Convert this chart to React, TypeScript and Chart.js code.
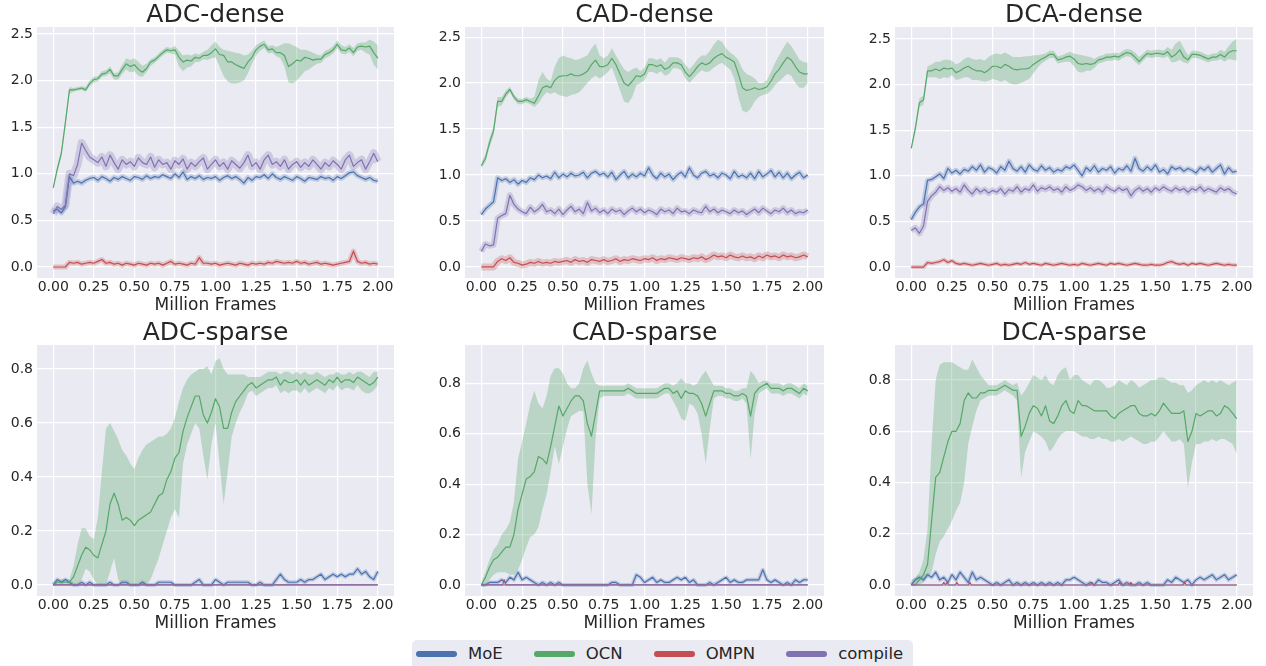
import React, { useEffect, useRef } from "react";
import { Chart, registerables } from "chart.js";

Chart.register(...registerables);

const FONT = "'DejaVu Sans', 'Noto Sans', sans-serif";
const TEXT = "#262626";
const PLOT_BG = "#eaeaf2";

const SERIES_NAMES = ["MoE", "OCN", "OMPN", "compile"];
const SERIES_RGB = ["76,114,176", "85,168,104", "196,78,82", "129,114,178"];

// x grid: million frames, every 0.025
const X = Array.from({ length: 81 }, (_, i) => i / 40);
const X_TICKS = [0, 0.25, 0.5, 0.75, 1, 1.25, 1.5, 1.75, 2];
const DENSE_Y_TICKS = [0, 0.5, 1, 1.5, 2, 2.5];
const SPARSE_Y_TICKS = [0, 0.2, 0.4, 0.6, 0.8];
const X_LABEL = "Million Frames";

// ---------------- ADC-dense ----------------
const ADC_DENSE_OCN = [0.85,1.05,1.22,1.55,1.90,1.90,1.91,1.92,1.90,1.97,
 2.01,2.02,2.07,2.08,2.12,2.05,2.05,2.12,2.18,2.15,
 2.17,2.12,2.09,2.13,2.20,2.22,2.26,2.30,2.33,2.32,
 2.33,2.25,2.20,2.22,2.21,2.25,2.24,2.27,2.27,2.30,
 2.34,2.28,2.27,2.20,2.20,2.17,2.15,2.13,2.20,2.25,
 2.33,2.37,2.39,2.33,2.34,2.30,2.30,2.27,2.15,2.18,
 2.22,2.21,2.25,2.24,2.22,2.23,2.23,2.28,2.30,2.33,
 2.39,2.33,2.32,2.35,2.30,2.36,2.37,2.36,2.37,2.30,
 2.24];
const ADC_DENSE_OCN_LO = [0.83,1.02,1.18,1.50,1.86,1.88,1.89,1.90,1.88,1.94,
 1.98,1.99,2.04,2.05,2.08,2.01,2.01,2.07,2.12,2.09,
 2.10,2.05,2.04,2.09,2.16,2.19,2.23,2.27,2.30,2.29,
 2.28,2.15,2.10,2.14,2.15,2.20,2.20,2.23,2.22,2.24,
 2.25,2.15,2.05,1.99,1.97,1.97,1.98,2.00,2.08,2.18,
 2.27,2.32,2.35,2.29,2.30,2.26,2.24,2.15,1.98,1.97,
 2.00,2.05,2.10,2.12,2.15,2.18,2.19,2.24,2.26,2.29,
 2.35,2.29,2.28,2.31,2.26,2.32,2.33,2.30,2.28,2.17,
 2.12];
const ADC_DENSE_OCN_HI = [0.87,1.08,1.26,1.60,1.93,1.92,1.93,1.94,1.93,2.00,
 2.04,2.05,2.10,2.11,2.15,2.08,2.09,2.17,2.24,2.22,
 2.24,2.20,2.16,2.18,2.23,2.25,2.29,2.33,2.36,2.35,
 2.37,2.32,2.27,2.28,2.27,2.29,2.28,2.31,2.33,2.38,
 2.42,2.36,2.33,2.32,2.31,2.30,2.29,2.27,2.28,2.32,
 2.38,2.41,2.43,2.37,2.38,2.36,2.38,2.40,2.40,2.38,
 2.36,2.33,2.33,2.32,2.30,2.28,2.27,2.32,2.34,2.37,
 2.43,2.38,2.36,2.39,2.35,2.40,2.41,2.41,2.44,2.42,
 2.38];
const ADC_DENSE_MOE = [0.60,0.62,0.58,0.65,0.97,0.90,0.92,0.90,0.93,0.95,
 0.96,0.93,0.97,0.95,0.92,0.96,0.94,0.97,0.95,0.93,
 0.97,0.96,0.94,0.98,0.95,0.97,0.96,0.99,0.97,0.95,
 1.00,0.96,1.02,0.94,0.97,0.95,0.98,0.94,0.96,0.95,
 0.97,0.93,0.96,0.98,0.95,0.97,0.94,0.90,0.96,0.93,
 0.97,0.96,0.99,0.95,1.00,0.96,0.94,0.97,0.95,0.93,
 0.97,0.95,0.92,0.96,0.95,0.94,0.97,0.95,0.96,0.93,
 0.97,0.95,0.98,1.01,1.02,0.98,0.96,0.94,0.96,0.93,
 0.92];
const ADC_DENSE_OMPN = [0,0,0,0,0.05,0.04,0.05,0.03,0.04,0.05,
 0.04,0.06,0.08,0.04,0.05,0.03,0.04,0.02,0.04,0.03,
 0.02,0.04,0.03,0.02,0.04,0.03,0.04,0.02,0.04,0.06,
 0.03,0.04,0.03,0.02,0.04,0.03,0.10,0.04,0.04,0.03,
 0.04,0.02,0.03,0.04,0.03,0.02,0.04,0.03,0.02,0.04,
 0.03,0.04,0.03,0.05,0.04,0.06,0.05,0.04,0.05,0.04,
 0.06,0.04,0.05,0.03,0.04,0.05,0.03,0.04,0.03,0.02,
 0.03,0.04,0.05,0.06,0.17,0.06,0.04,0.05,0.03,0.04,
 0.03];
const ADC_DENSE_COMPILE = [0.57,0.65,0.62,0.66,1.00,0.98,1.10,1.33,1.25,1.18,
 1.15,1.12,1.18,1.08,1.20,1.12,1.05,1.15,1.10,1.13,
 1.08,1.17,1.12,1.10,1.18,1.07,1.15,1.10,1.12,1.05,
 1.14,1.10,1.16,1.05,1.12,1.08,1.13,1.17,1.05,1.10,
 1.15,1.08,1.12,1.05,1.14,1.10,1.06,1.12,1.20,1.08,
 1.12,1.05,1.15,1.20,1.10,1.13,1.08,1.15,1.05,1.10,
 1.13,1.07,1.12,1.08,1.15,1.10,1.05,1.12,1.08,1.14,
 1.10,1.05,1.15,1.20,1.08,1.12,1.15,1.05,1.13,1.22,
 1.13];

// ---------------- CAD-dense ----------------
const CAD_DENSE_OCN = [1.10,1.18,1.35,1.48,1.80,1.80,1.88,1.93,1.85,1.80,
 1.80,1.82,1.80,1.78,1.86,1.95,1.97,1.95,2.03,2.07,
 2.08,2.08,2.10,2.08,2.08,2.10,2.13,2.20,2.25,2.18,
 2.18,2.20,2.27,2.20,2.10,2.00,1.97,2.02,2.08,2.07,
 2.10,2.20,2.20,2.18,2.20,2.15,2.17,2.22,2.22,2.20,
 2.12,2.07,2.12,2.18,2.22,2.20,2.22,2.27,2.30,2.32,
 2.28,2.26,2.23,2.10,1.95,1.92,1.93,1.95,1.93,1.94,
 1.96,2.02,2.10,2.15,2.22,2.28,2.25,2.18,2.12,2.10,
 2.10];
const CAD_DENSE_OCN_LO = [1.07,1.14,1.30,1.43,1.74,1.76,1.84,1.90,1.82,1.77,
 1.77,1.79,1.77,1.74,1.78,1.85,1.90,1.88,1.90,1.87,
 1.86,1.85,1.87,1.88,1.90,1.95,2.00,2.05,2.08,2.05,
 2.08,2.12,2.17,2.05,1.92,1.80,1.78,1.85,1.98,2.00,
 2.03,2.12,2.12,2.10,2.13,2.08,2.10,2.16,2.16,2.14,
 2.05,2.00,2.05,2.10,2.14,2.12,2.13,2.17,2.20,2.22,
 2.18,2.15,2.05,1.85,1.70,1.68,1.72,1.80,1.85,1.87,
 1.88,1.92,1.98,2.02,2.06,2.10,2.08,2.00,1.95,1.95,
 2.00];
const CAD_DENSE_OCN_HI = [1.14,1.22,1.40,1.53,1.85,1.85,1.92,1.96,1.88,1.83,
 1.83,1.85,1.83,1.85,2.03,2.12,2.05,2.02,2.18,2.27,
 2.30,2.28,2.27,2.25,2.26,2.28,2.30,2.38,2.43,2.30,
 2.27,2.30,2.38,2.30,2.22,2.15,2.12,2.15,2.17,2.13,
 2.17,2.27,2.27,2.25,2.27,2.22,2.28,2.28,2.28,2.26,
 2.20,2.15,2.20,2.26,2.30,2.30,2.35,2.42,2.47,2.45,
 2.38,2.33,2.30,2.25,2.15,2.10,2.08,2.05,2.00,2.00,
 2.03,2.12,2.22,2.30,2.38,2.45,2.40,2.33,2.25,2.23,
 2.22];
const CAD_DENSE_MOE = [0.57,0.63,0.67,0.71,0.97,0.94,0.96,0.92,0.95,0.90,
 0.94,0.92,0.97,0.95,1.00,0.97,0.99,0.96,1.03,0.97,
 1.01,0.98,1.02,0.99,1.00,1.03,0.97,1.02,1.04,1.00,
 1.02,0.98,1.03,0.95,1.00,1.04,0.97,1.01,0.98,1.02,
 0.99,1.08,1.00,0.96,1.02,0.98,1.01,0.95,1.00,1.03,
 0.98,1.08,1.00,0.97,1.02,1.04,0.99,1.01,0.97,1.02,
 1.00,0.96,1.04,0.98,1.00,0.97,1.02,0.96,1.04,0.98,
 1.01,1.05,0.98,1.03,0.97,1.02,0.96,1.00,1.03,0.97,
 1.00];
const CAD_DENSE_OMPN = [0,0,0,0,0.06,0.09,0.07,0.10,0.05,0.04,
 0.02,0.03,0.05,0.04,0.06,0.04,0.05,0.04,0.06,0.05,
 0.06,0.07,0.05,0.08,0.06,0.07,0.05,0.08,0.07,0.06,
 0.08,0.06,0.07,0.09,0.06,0.08,0.07,0.09,0.08,0.07,
 0.09,0.08,0.10,0.07,0.09,0.08,0.10,0.09,0.08,0.10,
 0.09,0.08,0.10,0.09,0.11,0.08,0.10,0.13,0.11,0.12,
 0.10,0.13,0.11,0.10,0.12,0.10,0.11,0.09,0.12,0.10,
 0.13,0.11,0.12,0.10,0.13,0.11,0.12,0.10,0.11,0.13,
 0.11];
const CAD_DENSE_COMPILE = [0.17,0.25,0.23,0.24,0.53,0.56,0.58,0.78,0.68,0.63,
 0.60,0.58,0.65,0.60,0.63,0.68,0.60,0.62,0.58,0.63,
 0.57,0.62,0.66,0.60,0.63,0.58,0.70,0.61,0.64,0.59,
 0.62,0.58,0.63,0.60,0.62,0.57,0.61,0.64,0.60,0.63,
 0.59,0.62,0.60,0.57,0.63,0.60,0.62,0.58,0.64,0.60,
 0.61,0.58,0.62,0.60,0.59,0.66,0.60,0.63,0.59,0.62,
 0.60,0.58,0.62,0.59,0.61,0.57,0.60,0.63,0.59,0.64,
 0.61,0.58,0.62,0.60,0.64,0.59,0.62,0.58,0.60,0.59,
 0.62];

// ---------------- DCA-dense ----------------
const DCA_DENSE_OCN = [1.30,1.52,1.80,1.83,2.15,2.15,2.17,2.15,2.18,2.17,
 2.18,2.13,2.15,2.18,2.20,2.17,2.15,2.15,2.13,2.16,
 2.20,2.20,2.18,2.22,2.20,2.17,2.16,2.17,2.17,2.18,
 2.22,2.25,2.28,2.30,2.33,2.33,2.27,2.28,2.30,2.31,
 2.28,2.23,2.22,2.23,2.22,2.23,2.27,2.28,2.30,2.30,
 2.31,2.30,2.33,2.35,2.34,2.30,2.25,2.30,2.34,2.33,
 2.34,2.34,2.33,2.36,2.30,2.33,2.38,2.30,2.27,2.33,
 2.33,2.32,2.30,2.28,2.30,2.30,2.33,2.30,2.35,2.37,
 2.37];
const DCA_DENSE_OCN_LO = [1.28,1.48,1.75,1.78,2.08,2.08,2.08,2.06,2.08,2.07,
 2.10,2.05,2.06,2.08,2.08,2.05,2.05,2.04,2.03,2.04,
 2.06,2.05,2.03,2.05,2.02,2.00,2.00,2.02,2.04,2.06,
 2.12,2.18,2.23,2.26,2.29,2.29,2.23,2.24,2.25,2.25,
 2.20,2.14,2.13,2.15,2.15,2.18,2.23,2.24,2.26,2.26,
 2.27,2.26,2.29,2.31,2.30,2.25,2.21,2.26,2.30,2.29,
 2.30,2.30,2.29,2.31,2.24,2.25,2.27,2.24,2.23,2.29,
 2.29,2.28,2.26,2.24,2.26,2.26,2.28,2.25,2.28,2.27,
 2.26];
const DCA_DENSE_OCN_HI = [1.32,1.56,1.85,1.88,2.20,2.22,2.25,2.25,2.27,2.27,
 2.26,2.22,2.24,2.28,2.30,2.28,2.27,2.28,2.26,2.30,
 2.33,2.34,2.33,2.35,2.33,2.30,2.30,2.30,2.31,2.31,
 2.32,2.32,2.33,2.34,2.37,2.37,2.31,2.32,2.34,2.36,
 2.34,2.33,2.32,2.31,2.30,2.28,2.31,2.32,2.34,2.34,
 2.35,2.34,2.37,2.39,2.38,2.35,2.30,2.34,2.38,2.37,
 2.38,2.38,2.37,2.41,2.38,2.45,2.48,2.40,2.32,2.37,
 2.37,2.36,2.34,2.32,2.34,2.34,2.38,2.36,2.42,2.47,
 2.50];
const DCA_DENSE_MOE = [0.52,0.60,0.66,0.69,0.95,0.96,0.99,1.02,0.97,1.08,
 1.03,1.06,1.02,1.07,1.05,1.10,1.06,1.12,1.04,1.09,
 1.07,1.03,1.10,1.06,1.16,1.08,1.05,1.10,1.04,1.12,
 1.07,1.05,1.11,1.06,1.09,1.04,1.07,1.05,1.10,1.08,
 1.12,1.06,1.00,1.09,1.05,1.11,1.04,1.08,1.06,1.10,
 1.03,1.08,1.06,1.11,1.05,1.19,1.08,1.05,1.10,1.06,
 1.12,1.04,1.07,1.02,1.10,1.07,1.09,1.05,1.08,1.06,
 1.03,1.09,1.06,1.10,1.04,1.08,1.12,1.02,1.09,1.04,
 1.05];
const DCA_DENSE_OMPN = [0,0,0,0,0.05,0.04,0.05,0.06,0.08,0.05,
 0.07,0.04,0.03,0.04,0.03,0.02,0.03,0.04,0.03,0.02,
 0.03,0.04,0.02,0.03,0.02,0.03,0.04,0.03,0.05,0.03,
 0.04,0.03,0.02,0.04,0.03,0.02,0.03,0.04,0.03,0.02,
 0.03,0.02,0.04,0.03,0.02,0.03,0.04,0.03,0.02,0.04,
 0.03,0.04,0.03,0.02,0.03,0.04,0.03,0.02,0.02,0.03,
 0.02,0.02,0.03,0.05,0.06,0.04,0.03,0.04,0.02,0.04,
 0.03,0.04,0.03,0.02,0.03,0.04,0.03,0.02,0.03,0.02,
 0.02];
const DCA_DENSE_COMPILE = [0.40,0.43,0.37,0.45,0.72,0.78,0.82,0.88,0.84,0.87,
 0.83,0.86,0.82,0.90,0.84,0.80,0.86,0.82,0.85,0.81,
 0.84,0.82,0.86,0.80,0.85,0.83,0.88,0.82,0.86,0.84,
 0.90,0.83,0.87,0.85,0.88,0.84,0.86,0.82,0.88,0.84,
 0.86,0.90,0.88,0.84,0.87,0.83,0.86,0.82,0.88,0.85,
 0.83,0.87,0.84,0.86,0.78,0.84,0.87,0.83,0.86,0.82,
 0.87,0.84,0.88,0.85,0.83,0.87,0.84,0.86,0.82,0.86,
 0.84,0.88,0.83,0.86,0.84,0.82,0.87,0.84,0.86,0.82,
 0.80];

// ---------------- ADC-sparse ----------------
const ADC_SPARSE_OCN = [0.00,0.01,0.01,0.01,0.01,0.03,0.07,0.11,0.14,0.13,
 0.11,0.10,0.15,0.20,0.30,0.34,0.30,0.24,0.25,0.24,
 0.22,0.24,0.25,0.26,0.27,0.30,0.33,0.34,0.39,0.42,
 0.47,0.49,0.57,0.62,0.66,0.70,0.70,0.63,0.60,0.64,
 0.69,0.66,0.58,0.58,0.64,0.68,0.70,0.72,0.74,0.75,
 0.73,0.74,0.75,0.76,0.76,0.77,0.74,0.76,0.75,0.75,
 0.76,0.74,0.76,0.74,0.75,0.76,0.75,0.74,0.76,0.75,
 0.77,0.75,0.76,0.76,0.75,0.77,0.76,0.75,0.74,0.75,
 0.77];
const ADC_SPARSE_OCN_LO = [0.00,0.00,0.00,0.00,0.00,0.00,0.00,0.02,0.06,0.05,
 0.02,0.00,0.00,0.00,0.05,0.10,0.02,0.00,0.00,0.00,
 0.00,0.00,0.00,0.00,0.02,0.06,0.10,0.15,0.20,0.25,
 0.28,0.25,0.45,0.52,0.56,0.60,0.58,0.48,0.39,0.52,
 0.60,0.45,0.30,0.42,0.55,0.60,0.64,0.67,0.71,0.72,
 0.70,0.71,0.72,0.73,0.73,0.74,0.71,0.72,0.71,0.72,
 0.72,0.71,0.73,0.71,0.72,0.73,0.72,0.71,0.73,0.72,
 0.74,0.72,0.73,0.73,0.72,0.74,0.72,0.71,0.71,0.72,
 0.74];
const ADC_SPARSE_OCN_HI = [0.01,0.02,0.02,0.02,0.02,0.07,0.15,0.21,0.21,0.18,
 0.17,0.25,0.42,0.58,0.60,0.57,0.54,0.50,0.48,0.45,
 0.43,0.47,0.50,0.52,0.53,0.54,0.55,0.55,0.56,0.58,
 0.62,0.68,0.73,0.76,0.78,0.79,0.80,0.80,0.81,0.78,
 0.83,0.84,0.80,0.78,0.78,0.78,0.78,0.78,0.77,0.77,
 0.77,0.77,0.78,0.79,0.79,0.79,0.78,0.79,0.79,0.78,
 0.79,0.78,0.79,0.78,0.78,0.79,0.78,0.77,0.78,0.78,
 0.79,0.78,0.78,0.79,0.78,0.79,0.79,0.78,0.77,0.79,
 0.79];
const ADC_SPARSE_MOE = [0,0.02,0.01,0.02,0.01,0,0,0.01,0,0.01,
 0,0,0,0,0.01,0,0,0.01,0.01,0,
 0,0,0.01,0,0,0,0.01,0.01,0.01,0.01,
 0,0,0,0,0,0.01,0.02,0,0,0,
 0.02,0.01,0,0.01,0.01,0.01,0.01,0.01,0.01,0,
 0,0.01,0,0,0,0.02,0.04,0.02,0.01,0.01,
 0.01,0.02,0.01,0.02,0.02,0.03,0.04,0.02,0.03,0.04,
 0.03,0.04,0.03,0.04,0.04,0.06,0.04,0.05,0.03,0.02,
 0.05];
const ADC_SPARSE_OMPN_X = [0, 2];
const ADC_SPARSE_OMPN = [0, 0];

// ---------------- CAD-sparse ----------------
const CAD_SPARSE_OCN = [0.00,0.03,0.07,0.10,0.11,0.13,0.15,0.15,0.20,0.30,
 0.36,0.42,0.43,0.45,0.51,0.50,0.48,0.55,0.63,0.71,
 0.67,0.70,0.73,0.75,0.75,0.73,0.64,0.59,0.68,0.77,
 0.77,0.77,0.77,0.77,0.77,0.77,0.78,0.77,0.76,0.76,
 0.76,0.76,0.76,0.76,0.77,0.78,0.78,0.76,0.77,0.74,
 0.77,0.76,0.76,0.75,0.72,0.67,0.72,0.77,0.77,0.77,
 0.76,0.76,0.75,0.75,0.76,0.75,0.67,0.76,0.78,0.79,
 0.80,0.78,0.78,0.78,0.77,0.78,0.78,0.77,0.76,0.78,
 0.77];
const CAD_SPARSE_OCN_LO = [0.00,0.00,0.02,0.04,0.05,0.05,0.05,0.04,0.04,0.06,
 0.10,0.15,0.19,0.20,0.23,0.30,0.36,0.45,0.55,0.48,
 0.55,0.62,0.67,0.68,0.69,0.69,0.40,0.28,0.58,0.74,
 0.75,0.75,0.75,0.75,0.75,0.75,0.76,0.75,0.74,0.74,
 0.74,0.74,0.74,0.74,0.75,0.76,0.76,0.73,0.70,0.66,
 0.65,0.72,0.71,0.68,0.60,0.48,0.62,0.74,0.75,0.75,
 0.74,0.74,0.73,0.73,0.74,0.72,0.50,0.68,0.76,0.77,
 0.78,0.76,0.76,0.76,0.75,0.76,0.76,0.75,0.74,0.76,
 0.75];
const CAD_SPARSE_OCN_HI = [0.01,0.05,0.10,0.14,0.16,0.20,0.22,0.25,0.33,0.50,
 0.57,0.64,0.72,0.77,0.72,0.70,0.75,0.83,0.86,0.86,
 0.84,0.80,0.78,0.78,0.80,0.86,0.89,0.84,0.80,0.79,
 0.79,0.79,0.79,0.79,0.79,0.79,0.80,0.79,0.78,0.78,
 0.78,0.78,0.78,0.78,0.79,0.80,0.80,0.79,0.80,0.82,
 0.80,0.80,0.79,0.80,0.83,0.85,0.82,0.79,0.79,0.79,
 0.78,0.78,0.77,0.77,0.78,0.78,0.85,0.83,0.80,0.81,
 0.81,0.80,0.80,0.80,0.79,0.80,0.80,0.79,0.78,0.80,
 0.79];
const CAD_SPARSE_MOE = [0,0,0.01,0.01,0.01,0.02,0.01,0.03,0.02,0.05,
 0.02,0.03,0.02,0.01,0,0.01,0,0.01,0,0.01,
 0,0,0,0,0,0,0,0,0,0,
 0,0,0.01,0.01,0,0,0,0,0.04,0.03,
 0.01,0.02,0.03,0.01,0.02,0.01,0.01,0.02,0.03,0.02,
 0.03,0.01,0.02,0,0,0,0.01,0,0.01,0.02,
 0.03,0.01,0.02,0.01,0.01,0.02,0.02,0.02,0.02,0.06,
 0.02,0.01,0.02,0.01,0,0.01,0,0.02,0.01,0.02,
 0.02];
const CAD_SPARSE_OMPN_X = [0, 0.13, 0.14, 0.15, 2];
const CAD_SPARSE_OMPN = [0, 0, 0.02, 0, 0];

// ---------------- DCA-sparse ----------------
const DCA_SPARSE_OCN = [0.00,0.00,0.02,0.04,0.08,0.25,0.42,0.44,0.50,0.56,
 0.60,0.60,0.63,0.72,0.75,0.73,0.73,0.75,0.75,0.76,
 0.76,0.76,0.77,0.78,0.77,0.76,0.76,0.58,0.62,0.67,
 0.70,0.69,0.66,0.70,0.64,0.63,0.66,0.70,0.72,0.68,
 0.67,0.72,0.70,0.70,0.69,0.68,0.68,0.68,0.68,0.66,
 0.65,0.67,0.68,0.69,0.70,0.70,0.67,0.66,0.66,0.67,
 0.66,0.68,0.71,0.69,0.67,0.67,0.67,0.68,0.56,0.60,
 0.67,0.66,0.67,0.68,0.68,0.66,0.67,0.70,0.69,0.67,
 0.65];
const DCA_SPARSE_OCN_LO = [0.00,0.00,0.00,0.01,0.03,0.05,0.12,0.17,0.19,0.22,
 0.25,0.29,0.32,0.40,0.55,0.62,0.68,0.72,0.73,0.74,
 0.74,0.74,0.75,0.76,0.75,0.74,0.72,0.42,0.52,0.56,
 0.60,0.59,0.58,0.56,0.52,0.54,0.57,0.59,0.60,0.60,
 0.60,0.59,0.58,0.58,0.57,0.57,0.58,0.57,0.57,0.56,
 0.56,0.57,0.56,0.57,0.58,0.57,0.56,0.55,0.55,0.56,
 0.56,0.58,0.60,0.58,0.56,0.56,0.57,0.55,0.38,0.48,
 0.55,0.55,0.56,0.56,0.57,0.56,0.57,0.57,0.56,0.55,
 0.51];
const DCA_SPARSE_OCN_HI = [0.02,0.03,0.05,0.10,0.22,0.55,0.80,0.86,0.87,0.87,
 0.87,0.86,0.85,0.84,0.84,0.88,0.85,0.82,0.80,0.78,
 0.78,0.78,0.79,0.80,0.79,0.78,0.79,0.74,0.76,0.79,
 0.82,0.81,0.80,0.82,0.79,0.78,0.82,0.84,0.85,0.80,
 0.82,0.82,0.80,0.79,0.78,0.80,0.80,0.79,0.77,0.77,
 0.78,0.80,0.79,0.78,0.80,0.79,0.77,0.78,0.79,0.80,
 0.80,0.81,0.81,0.80,0.79,0.79,0.78,0.78,0.75,0.76,
 0.78,0.79,0.80,0.79,0.80,0.79,0.80,0.79,0.78,0.79,
 0.80];
const DCA_SPARSE_MOE = [0,0.02,0.03,0.02,0.04,0.03,0.05,0.02,0.03,0.01,
 0.04,0.02,0.05,0.03,0.01,0.05,0.02,0.03,0.02,0.01,
 0,0.01,0,0.01,0.02,0,0.01,0,0.01,0,
 0.01,0,0.01,0,0.01,0,0.01,0,0.02,0.02,
 0.03,0.02,0.01,0,0.01,0,0.02,0.01,0.01,0,
 0.01,0.02,0,0.01,0,0,0.01,0,0.01,0,
 0,0,0,0.02,0.01,0.03,0.02,0.01,0.02,0,
 0.02,0.03,0.02,0.03,0.04,0.02,0.03,0.04,0.02,0.03,
 0.04];
const DCA_SPARSE_OMPN_X = [0,0.19,0.2,0.21,0.22,0.23,0.27,0.28,0.29,0.35,0.36,0.37,1.1,1.11,1.12,1.27,1.28,1.29,1.34,1.35,1.36,1.67,1.68,1.69,2];
const DCA_SPARSE_OMPN = [0,0,0.01,0,0.01,0,0,0.01,0,0,0.01,0,0,0.01,0,0,0.01,0,0,0.01,0,0,0.01,0,0];

// compile is flat at zero in all sparse tasks
const SPARSE_COMPILE_X = [0, 2];
const SPARSE_COMPILE = [0, 0];

type PanelData = {
  title: string;
  yTicks: number[];
  yMin: number;
  yMax: number;
  moe: number[];
  ocn: number[];
  ocnLo: number[];
  ocnHi: number[];
  ompn: number[];
  ompnX: number[];
  compile: number[];
  compileX: number[];
};

const PANELS: PanelData[] = [
  { title: "ADC-dense", yTicks: DENSE_Y_TICKS, yMin: -0.118, yMax: 2.575, moe: ADC_DENSE_MOE, ocn: ADC_DENSE_OCN, ocnLo: ADC_DENSE_OCN_LO, ocnHi: ADC_DENSE_OCN_HI, ompn: ADC_DENSE_OMPN, ompnX: X, compile: ADC_DENSE_COMPILE, compileX: X },
  { title: "CAD-dense", yTicks: DENSE_Y_TICKS, yMin: -0.12, yMax: 2.61, moe: CAD_DENSE_MOE, ocn: CAD_DENSE_OCN, ocnLo: CAD_DENSE_OCN_LO, ocnHi: CAD_DENSE_OCN_HI, ompn: CAD_DENSE_OMPN, ompnX: X, compile: CAD_DENSE_COMPILE, compileX: X },
  { title: "DCA-dense", yTicks: DENSE_Y_TICKS, yMin: -0.12, yMax: 2.63, moe: DCA_DENSE_MOE, ocn: DCA_DENSE_OCN, ocnLo: DCA_DENSE_OCN_LO, ocnHi: DCA_DENSE_OCN_HI, ompn: DCA_DENSE_OMPN, ompnX: X, compile: DCA_DENSE_COMPILE, compileX: X },
  { title: "ADC-sparse", yTicks: SPARSE_Y_TICKS, yMin: -0.041, yMax: 0.889, moe: ADC_SPARSE_MOE, ocn: ADC_SPARSE_OCN, ocnLo: ADC_SPARSE_OCN_LO, ocnHi: ADC_SPARSE_OCN_HI, ompn: ADC_SPARSE_OMPN, ompnX: ADC_SPARSE_OMPN_X, compile: SPARSE_COMPILE, compileX: SPARSE_COMPILE_X },
  { title: "CAD-sparse", yTicks: SPARSE_Y_TICKS, yMin: -0.044, yMax: 0.952, moe: CAD_SPARSE_MOE, ocn: CAD_SPARSE_OCN, ocnLo: CAD_SPARSE_OCN_LO, ocnHi: CAD_SPARSE_OCN_HI, ompn: CAD_SPARSE_OMPN, ompnX: CAD_SPARSE_OMPN_X, compile: SPARSE_COMPILE, compileX: SPARSE_COMPILE_X },
  { title: "DCA-sparse", yTicks: SPARSE_Y_TICKS, yMin: -0.043, yMax: 0.937, moe: DCA_SPARSE_MOE, ocn: DCA_SPARSE_OCN, ocnLo: DCA_SPARSE_OCN_LO, ocnHi: DCA_SPARSE_OCN_HI, ompn: DCA_SPARSE_OMPN, ompnX: DCA_SPARSE_OMPN_X, compile: SPARSE_COMPILE, compileX: SPARSE_COMPILE_X },
];

type PanelStyle = { left: number; top: number; width: number; height: number; axisW: number; padR: number; halo: number[] };

// halo = widths of the translucent std band stroke for [MoE, OMPN, compile]
const STYLES: PanelStyle[] = [
  { left: 0, top: 0, width: 422, height: 318, axisW: 37, padR: 28, halo: [5, 5, 8] },
  { left: 422, top: 0, width: 422, height: 318, axisW: 43, padR: 20, halo: [5, 7, 6] },
  { left: 844, top: 0, width: 422, height: 318, axisW: 51, padR: 13, halo: [5, 4, 6] },
  { left: 0, top: 318, width: 422, height: 318, axisW: 37, padR: 28, halo: [4, 0, 0] },
  { left: 422, top: 318, width: 422, height: 318, axisW: 43, padR: 20, halo: [4, 0, 0] },
  { left: 844, top: 318, width: 422, height: 318, axisW: 51, padR: 13, halo: [4, 0, 0] },
];

const plotBgPlugin = {
  id: "plotBg",
  beforeDraw(chart: any) {
    const { ctx, chartArea: a } = chart;
    if (!a) return;
    ctx.save();
    ctx.fillStyle = PLOT_BG;
    ctx.fillRect(a.left, a.top, a.right - a.left, a.bottom - a.top);
    ctx.restore();
  },
};

function Panel({ d, s }: { d: PanelData; s: PanelStyle }) {
  const ref = useRef<HTMLCanvasElement | null>(null);
  useEffect(() => {
    if (!ref.current) return;
    const pts = (ys: number[], xs: number[] = X) => ys.map((y, i) => ({ x: xs[i], y }));
    const line = (label: string, data: any[], rgb: string, width: number, order: number, alpha = 1) => ({
      label,
      data,
      borderColor: `rgba(${rgb},${alpha})`,
      backgroundColor: `rgba(${rgb},${alpha})`,
      borderWidth: width,
      pointRadius: 0,
      pointHoverRadius: 0,
      fill: false,
      tension: 0,
      order,
      borderJoinStyle: "round",
      borderCapStyle: "butt",
    });
    const datasets: any[] = [
      { label: "OCN lower", data: pts(d.ocnLo), borderColor: "rgba(0,0,0,0)", borderWidth: 0, pointRadius: 0, fill: false, order: 100 },
      { label: "OCN upper", data: pts(d.ocnHi), borderColor: "rgba(0,0,0,0)", borderWidth: 0, pointRadius: 0, fill: 0, backgroundColor: `rgba(${SERIES_RGB[1]},0.32)`, order: 100 },
    ];
    if (s.halo[0]) datasets.push(line("MoE band", pts(d.moe), SERIES_RGB[0], s.halo[0], 90, 0.28));
    if (s.halo[1]) datasets.push(line("OMPN band", pts(d.ompn, d.ompnX), SERIES_RGB[2], s.halo[1], 89, 0.28));
    if (s.halo[2]) datasets.push(line("compile band", pts(d.compile, d.compileX), SERIES_RGB[3], s.halo[2], 88, 0.28));
    datasets.push(line(SERIES_NAMES[0], pts(d.moe), SERIES_RGB[0], 1.2, 40));
    datasets.push(line(SERIES_NAMES[1], pts(d.ocn), SERIES_RGB[1], 1.2, 30));
    datasets.push(line(SERIES_NAMES[2], pts(d.ompn, d.ompnX), SERIES_RGB[2], 1.2, 20));
    datasets.push(line(SERIES_NAMES[3], pts(d.compile, d.compileX), SERIES_RGB[3], 1.2, 10));

    const chart = new Chart(ref.current, {
      type: "line",
      data: { datasets },
      plugins: [plotBgPlugin],
      options: {
        animation: false,
        responsive: true,
        maintainAspectRatio: false,
        devicePixelRatio: 1,
        events: [],
        layout: { padding: { left: 0, right: s.padR, top: 0, bottom: 0 } },
        plugins: {
          legend: { display: false },
          tooltip: { enabled: false },
          title: {
            display: true,
            text: d.title,
            color: TEXT,
            fullSize: false,
            font: { family: FONT, size: 25, weight: "normal", lineHeight: 0.92 },
            padding: { top: 4, bottom: 0 },
          },
        },
        scales: {
          x: {
            type: "linear",
            min: -0.1,
            max: 2.1,
            grid: { color: "#ffffff", lineWidth: 1.2, drawTicks: false },
            border: { display: false },
            ticks: {
              color: TEXT,
              font: { family: FONT, size: 14 },
              padding: 1,
              maxRotation: 0,
              autoSkip: false,
              callback: (v: any) => Number(v).toFixed(2),
            },
            afterBuildTicks: (sc: any) => {
              sc.ticks = X_TICKS.map((v) => ({ value: v }));
            },
            afterFit: (sc: any) => {
              sc.height = 40;
            },
            title: {
              display: true,
              text: X_LABEL,
              color: TEXT,
              font: { family: FONT, size: 17, lineHeight: 1.2 },
              padding: { top: 0, bottom: 2 },
            },
          },
          y: {
            type: "linear",
            min: d.yMin,
            max: d.yMax,
            grid: { color: "#ffffff", lineWidth: 1.2, drawTicks: false },
            border: { display: false },
            ticks: {
              color: TEXT,
              font: { family: FONT, size: 14 },
              padding: 4,
              autoSkip: false,
              callback: (v: any) => Number(v).toFixed(1),
            },
            afterBuildTicks: (sc: any) => {
              sc.ticks = d.yTicks.map((v) => ({ value: v }));
            },
            afterFit: (sc: any) => {
              sc.width = s.axisW;
            },
          },
        },
      } as any,
    });
    return () => chart.destroy();
  }, [d, s]);
  return (
    <div style={{ position: "absolute", left: s.left, top: s.top, width: s.width, height: s.height }}>
      <canvas ref={ref} />
    </div>
  );
}

function Legend() {
  return (
    <div
      style={{
        position: "absolute",
        left: 412,
        top: 640,
        width: 501,
        height: 40,
        background: PLOT_BG,
        borderRadius: 5,
      }}
    >
      <div
        style={{
          position: "absolute",
          left: 4,
          top: 4,
          height: 20,
          display: "flex",
          alignItems: "center",
          whiteSpace: "nowrap",
          fontFamily: FONT,
          fontSize: 16.5,
          color: TEXT,
          lineHeight: "20px",
        }}
      >
        {SERIES_NAMES.map((name, i) => (
          <div key={name} style={{ display: "flex", alignItems: "center", marginRight: i < SERIES_NAMES.length - 1 ? 31 : 0 }}>
            <div style={{ width: 41, height: 5.5, borderRadius: 3, background: `rgb(${SERIES_RGB[i]})`, marginRight: 11 }} />
            <span>{name}</span>
          </div>
        ))}
      </div>
    </div>
  );
}

export default function App() {
  return (
    <div
      style={{
        position: "absolute",
        left: 0,
        top: 0,
        width: 1266,
        height: 666,
        overflow: "hidden",
        background: "#ffffff",
      }}
    >
      {PANELS.map((p, i) => (
        <Panel key={p.title} d={p} s={STYLES[i]} />
      ))}
      <Legend />
    </div>
  );
}
